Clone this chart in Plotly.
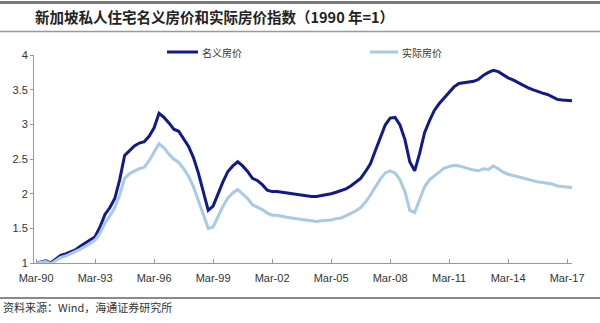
import pandas as pd
import plotly.graph_objects as go

# Quarterly dates, Q1 1990 .. Q2 2017
dates = pd.date_range("1990-03-31", periods=110, freq="QE")

nominal = [
    1.00, 1.02, 1.03, 1.00,
    1.06, 1.11, 1.13, 1.16,
    1.19, 1.24, 1.29, 1.33,
    1.38, 1.52, 1.70, 1.80,
    1.93, 2.20, 2.55, 2.62,
    2.69, 2.73, 2.75, 2.83,
    2.95, 3.16, 3.10, 3.02,
    2.93, 2.90, 2.79, 2.68,
    2.52, 2.30, 2.03, 1.76,
    1.82, 2.00, 2.17, 2.32,
    2.40, 2.46, 2.40, 2.32,
    2.22, 2.19, 2.13, 2.05,
    2.03, 2.03, 2.02, 2.01,
    2.00, 1.99, 1.97, 1.96,
    1.96, 1.96, 1.97, 1.98,
    2.00, 2.02, 2.04, 2.07,
    2.11, 2.16, 2.22, 2.32,
    2.43, 2.62, 2.82, 2.99,
    3.09, 3.10, 2.99, 2.78,
    2.46, 2.33, 2.58, 2.88,
    3.05, 3.20, 3.30, 3.38,
    3.46, 3.54, 3.59, 3.60,
    3.60, 3.62, 3.65, 3.71,
    3.75, 3.78, 3.76, 3.71,
    3.67, 3.64, 3.60, 3.57,
    3.53, 3.50, 3.47, 3.45,
    3.43, 3.40, 3.36, 3.35,
    3.34, 3.34,
]

real = [
    1.00, 1.01, 1.02, 0.99,
    1.03, 1.08, 1.10, 1.13,
    1.16, 1.20, 1.24, 1.29,
    1.33, 1.43, 1.58, 1.68,
    1.80, 1.98, 2.22, 2.29,
    2.33, 2.36, 2.38, 2.48,
    2.60, 2.72, 2.66, 2.57,
    2.50, 2.45, 2.36, 2.25,
    2.10, 1.90, 1.68, 1.50,
    1.52, 1.67, 1.82, 1.94,
    2.01, 2.06, 2.00, 1.93,
    1.84, 1.81, 1.77, 1.72,
    1.69, 1.69, 1.67, 1.66,
    1.65, 1.64, 1.62, 1.61,
    1.60, 1.60, 1.61, 1.61,
    1.62, 1.64, 1.65, 1.68,
    1.71, 1.75, 1.80, 1.88,
    1.98, 2.10, 2.21, 2.30,
    2.33, 2.30, 2.20, 2.03,
    1.76, 1.73, 1.92, 2.10,
    2.20, 2.26, 2.32, 2.37,
    2.39, 2.41, 2.40, 2.38,
    2.35, 2.34, 2.33, 2.36,
    2.35, 2.40, 2.36, 2.31,
    2.28, 2.26, 2.24, 2.22,
    2.20, 2.18, 2.17, 2.16,
    2.15, 2.14, 2.11, 2.10,
    2.09, 2.09,
]

series_names = ["名义房价", "实际房价"]
series_colors = ["#111A8C", "#A8CAE4"]
title_text = "新加坡私人住宅名义房价和实际房价指数（1990 年=1）"
source_text = "资料来源：Wind，海通证券研究所"
y_ticks = [1, 1.5, 2, 2.5, 3, 3.5, 4]
y_ticklabels = ["1", "1.5", "2", "2.5", "3", "3.5", "4"]

fig = go.Figure()
fig.add_trace(go.Scatter(x=dates, y=nominal, mode="lines", name=series_names[0],
                         line=dict(color=series_colors[0], width=3)))
fig.add_trace(go.Scatter(x=dates, y=real, mode="lines", name=series_names[1],
                         line=dict(color=series_colors[1], width=3)))

axis_font = dict(family="Arial, Liberation Sans, sans-serif", size=11, color="#333333")

fig.update_layout(
    width=600, height=323,
    margin=dict(l=34, r=28, t=55, b=60),
    paper_bgcolor="white", plot_bgcolor="white",
    showlegend=False,
    xaxis=dict(type="date", range=["1990-02-20", "2017-06-30"],
               tick0="1990-03-31", dtick="M36", tickformat="%b-%y",
               showgrid=False, zeroline=False, showline=True, linecolor="#999999",
               linewidth=1, ticks="inside", ticklen=4, tickcolor="#999999",
               ticklabelstandoff=5, tickfont=axis_font),
    yaxis=dict(range=[1, 4], tickvals=y_ticks, ticktext=y_ticklabels,
               showgrid=False, zeroline=False, showline=True, linecolor="#999999",
               linewidth=1, ticks="outside", ticklen=3, tickcolor="#999999",
               tickfont=axis_font),
)

# Manual legend
leg_y = 1.0144
leg_items = [(0.2472, 0.3048, 0.3086), (0.6245, 0.6766, 0.6803)]
for (x0, x1, xt), name, col in zip(leg_items, series_names, series_colors):
    fig.add_shape(type="line", xref="paper", yref="paper", x0=x0, x1=x1,
                  y0=leg_y, y1=leg_y, line=dict(color=col, width=3))
    fig.add_annotation(text=name, xref="paper", yref="paper", x=xt, y=leg_y,
                       xanchor="left", yanchor="middle", showarrow=False,
                       font=dict(family="Noto Sans CJK SC", size=10, color="#333333"))

# Decorative rules (top, under title, bottom)
fig.add_shape(type="line", xref="paper", yref="paper", x0=-0.07, x1=1.06,
              y0=1.252, y1=1.252, line=dict(color="#7a7a7a", width=3))
fig.add_shape(type="line", xref="paper", yref="paper", x0=-0.07, x1=1.06,
              y0=1.113, y1=1.113, line=dict(color="#9a9a9a", width=1.5))
fig.add_shape(type="line", xref="paper", yref="paper", x0=-0.07, x1=1.06,
              y0=-0.168, y1=-0.168, line=dict(color="#8a8a8a", width=2))

fig.add_annotation(text="<b>" + title_text + "</b>", xref="paper", yref="paper",
                   x=-0.002, y=1.183, xanchor="left", yanchor="middle", showarrow=False,
                   font=dict(family="Noto Sans CJK SC", size=14.5, color="#222222"))
fig.add_annotation(text=source_text, xref="paper", yref="paper",
                   x=-0.062, y=-0.212, xanchor="left", yanchor="middle", showarrow=False,
                   font=dict(family="Noto Sans CJK SC", size=11, color="#333333"))

fig.write_html("out.html")
